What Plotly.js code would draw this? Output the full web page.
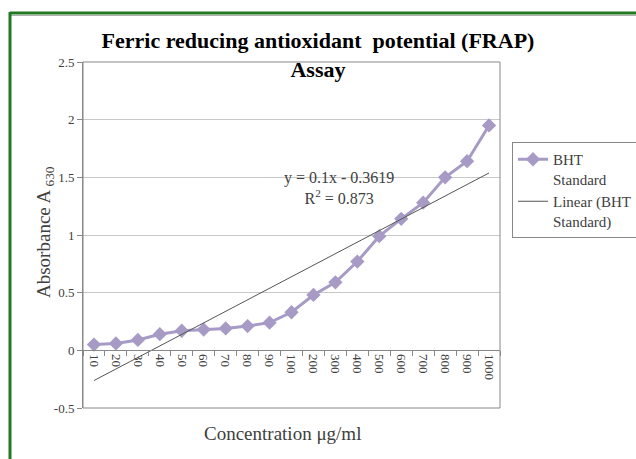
<!DOCTYPE html>
<html>
<head>
<meta charset="utf-8">
<script src="https://cdn.plot.ly/plotly-3.0.1.min.js"></script>
<style>html,body{margin:0;padding:0;background:#fff;}#chart{width:636px;height:459px;}</style>
</head>
<body>
<div id="chart"></div>
<script>
// ---- data ----
const concentrations = ['10','20','30','40','50','60','70','80','90','100','200','300','400','500','600','700','800','900','1000'];
const absorbance = [0.05,0.06,0.09,0.14,0.17,0.18,0.19,0.21,0.24,0.33,0.48,0.59,0.77,0.99,1.14,1.28,1.50,1.64,1.95];
const trendSlope = 0.1;
const trendIntercept = -0.3619;
const rSquared = 0.873;
const yTickVals = [-0.5,0,0.5,1,1.5,2,2.5];
const yTickText = ['-0.5','0','0.5','1','1.5','2','2.5'];

const trendY = concentrations.map((c,i)=> trendSlope*(i+1) + trendIntercept);

const serif = '"Liberation Serif", "Times New Roman", serif';

const traces = [
  {
    x: concentrations, y: absorbance, type:'scatter', mode:'lines+markers',
    name:'BHT<br>Standard',
    line:{color:'#a79bc6', width:3},
    marker:{symbol:'diamond', size:11, color:'#a79bc6'}
  },
  {
    x: concentrations, y: trendY, type:'scatter', mode:'lines',
    name:'Linear (BHT<br>Standard)',
    line:{color:'#555555', width:1}
  }
];

const L=83,R=500,T=62,B=408;
const pw=R-L, ph=B-T;
const px = v => (v-L)/pw;
const py = v => (B-v)/ph;

const layout = {
  width:636, height:459,
  margin:{l:L, r:636-R, t:T, b:459-B, pad:0, autoexpand:false},
  paper_bgcolor:'#fff', plot_bgcolor:'#fff',
  font:{family:serif, color:'#404040', size:13},
  title:{text:'<b>Ferric reducing antioxidant  potential (FRAP)<br>Assay</b>',
         font:{family:serif, size:22, color:'#000'},
         xref:'container', yref:'container', x:318/636, y:1-48/459, xanchor:'center', yanchor:'middle'},
  showlegend:true,
  legend:{x:px(512), y:py(142), xanchor:'left', yanchor:'top',
          bordercolor:'#888', borderwidth:1, bgcolor:'#fff',
          font:{family:serif, size:15, color:'#404040'}, valign:'top',
          tracegroupgap:0},
  xaxis:{type:'category', range:[-0.5, concentrations.length-0.5],
         anchor:'free', position:1/6,
         showline:true, linecolor:'#888', linewidth:1,
         ticks:'outside', tickson:'boundaries', ticklen:5, tickcolor:'#888',
         tickangle:90, tickfont:{family:serif, size:13, color:'#404040'},
         showgrid:false, zeroline:false, fixedrange:true},
  yaxis:{range:[-0.5,2.5], tickvals:yTickVals, ticktext:yTickText,
         showline:true, linecolor:'#888', linewidth:1,
         ticks:'outside', ticklen:5, tickcolor:'#888',
         gridcolor:'#c8c8c8', gridwidth:1, zeroline:false,
         tickfont:{family:serif, size:13, color:'#404040'}},
  annotations:[
    {xref:'paper', yref:'paper', x:px(339), y:py(188), xanchor:'center', yanchor:'middle',
     text:'y = '+trendSlope+'x - '+Math.abs(trendIntercept)+'<br>R<sup>2</sup> = '+rSquared,
     showarrow:false, font:{family:serif, size:16, color:'#404040'}},
    {xref:'paper', yref:'paper', x:px(45), y:py(232), xanchor:'center', yanchor:'middle', textangle:-90,
     text:'Absorbance A<sub> 630</sub>', showarrow:false, font:{family:serif, size:19, color:'#404040'}},
    {xref:'paper', yref:'paper', x:px(282), y:py(433), xanchor:'center', yanchor:'middle',
     text:'Concentration μg/ml', showarrow:false, font:{family:serif, size:19, color:'#404040'}}
  ],
  shapes:[
    {type:'rect', xref:'paper', yref:'paper', x0:0, x1:1, y0:0, y1:1, line:{color:'#888', width:1}},
    {type:'line', xref:'paper', yref:'paper', x0:px(10), x1:px(640), y0:py(13), y1:py(13), line:{color:'#217a21', width:3}},
    {type:'line', xref:'paper', yref:'paper', x0:px(10), x1:px(640), y0:py(15.5), y1:py(15.5), line:{color:'#b0b0b0', width:1}},
    {type:'line', xref:'paper', yref:'paper', x0:px(10), x1:px(10), y0:py(12), y1:py(470), line:{color:'#217a21', width:3}}
  ]
};

Plotly.newPlot('chart', traces, layout, {displayModeBar:false, staticPlot:true});
</script>
</body>
</html>
